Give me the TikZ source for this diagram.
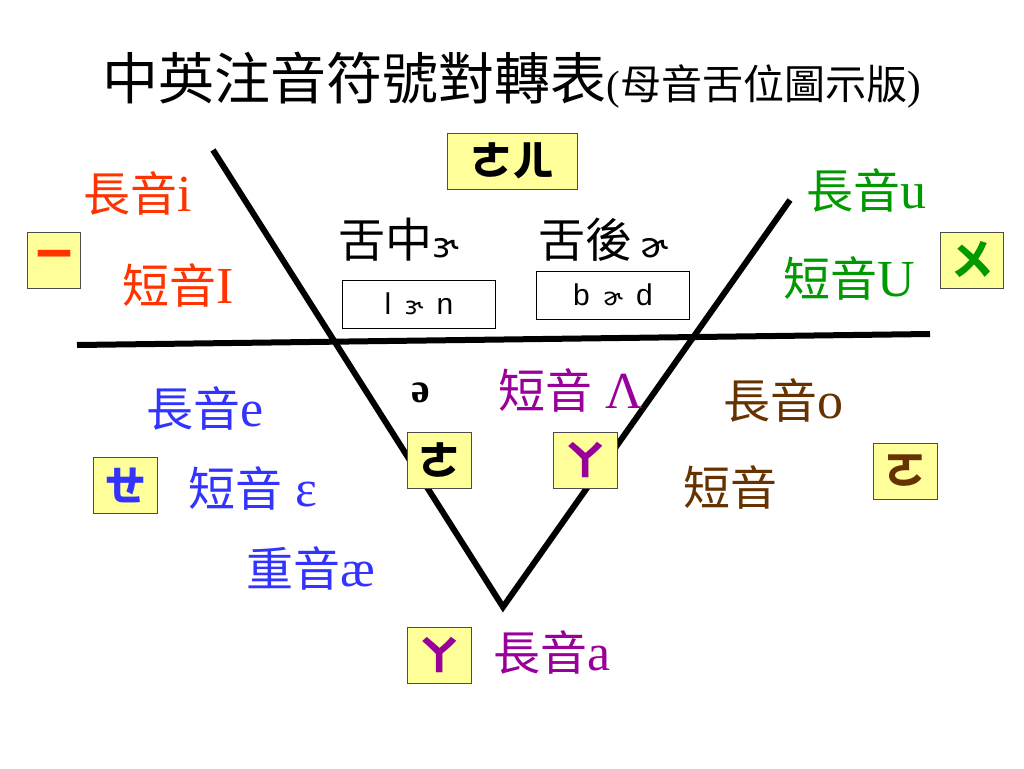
\documentclass[tikz,border=0pt]{standalone}
\usepackage{fontspec}
\setmainfont{Liberation Serif}
\newfontfamily\cjk{Noto Sans CJK TC}
\newfontfamily\arial{Liberation Sans}
\newfontfamily\ipa{DejaVu Sans}
\usetikzlibrary{positioning}
\definecolor{boxyellow}{HTML}{FFFF99}
\definecolor{hired}{HTML}{FF3300}
\definecolor{higreen}{HTML}{009900}
\definecolor{hiblue}{HTML}{3333FF}
\definecolor{hipurple}{HTML}{990099}
\definecolor{hibrown}{HTML}{663300}
\newcommand{\zh}[1]{{\cjk\fontsize{47}{47}\selectfont #1}}
\tikzset{zy/.style={draw=black!70,fill=boxyellow,minimum width=64pt,minimum
height=56pt,inner sep=0pt,font=\cjk\bfseries\fontsize{42}{42}\selectfont},word/.style={anchor=west,inner
sep=0pt,font=\fontsize{52}{52}\selectfont}}
\tikzstyle{ipabox}    = [draw, minimum width=153pt, minimum height=48pt, inner sep=0pt, font=\arial\fontsize{30}{30}\selectfont]
\tikzstyle{bar}       = [line width=6pt]

\begin{document}
\begin{tikzpicture}[x=1pt,y=-1pt]
		\useasboundingbox (0,0) rectangle (1024,768);
		\coordinate (vl) at (213,150);
		\coordinate (vb) at (503,607);
		\coordinate (vr) at (790,200);
		\coordinate (hl) at (77,345);
		\coordinate (hr) at (930,334);
		\draw[bar] (vl) -- (vb) -- (vr);
		\draw[bar] (hl) -- (hr);
		\node[inner sep=0pt,font=\cjk\fontsize{56}{56}\selectfont] (title) at (354,78) {中英注音符號對轉表};
		\node[inner sep=0pt,anchor=base west,font=\fontsize{41}{41}\selectfont] (sub) at (title.base east) {(\zh{\fontsize{41}{41}\selectfont 母音舌位圖示版})};
		\node[zy,minimum width=130pt] (er) at (512,161) {ㄜㄦ};
		\node[zy,minimum width=53pt,text=hired] (yi) at (54,260) {ㄧ};
		\node[zy,minimum width=63pt,text=higreen] (wu) at (972,260) {ㄨ};
		\node[zy,text=hiblue] (eh) at (125,485) {ㄝ};
		\node[zy] (e) at (439,460) {ㄜ};
		\node[zy,text=hipurple] (a) at (585,460) {ㄚ};
		\node[zy,text=hibrown] (o) at (905,471) {ㄛ};
		\node[zy,text=hipurple] (along) at (439,655) {ㄚ};
		\node[word,text=hired] (ilong) at (83,193) {\zh{長音}i};
		\node[word,text=hired] (ishort) at (122,285) {\zh{短音}I};
		\node[word] (mid) at (338,240) {\zh{舌中}{\ipa\fontsize{34}{34}\selectfont ɝ}};
		\node[word] (back) at (538,240) {\zh{舌後}\,{\ipa\fontsize{34}{34}\selectfont ɚ}};
		\node[ipabox] (learn) at (419,304) {l\ \,{\ipa\fontsize{24}{24}\selectfont ɝ}\ \,n};
		\node[ipabox] (bird) at (613,295) {b\ \,{\ipa\fontsize{24}{24}\selectfont ɚ}\ \,d};
		\node[word,text=higreen] (ulong) at (806,190) {\zh{長音}u};
		\node[word,text=higreen] (ushort) at (783,278) {\zh{短音}U};
		\node[word,text=hiblue] (elong) at (146,408) {\zh{長音}e};
		\node[word,text=hiblue] (eshort) at (188,488) {\zh{短音} ε};
		\node[word,text=hiblue] (ae) at (246,568) {\zh{重音}æ};
		\node[inner sep=0pt,font=\bfseries\fontsize{42}{42}\selectfont] (schwa) at (421,393) {ə};
		\node[word,text=hipurple] (lambda) at (498,390) {\zh{短音} Λ};
		\node[word,text=hibrown] (olong) at (723,400) {\zh{長音}o};
		\node[word,text=hibrown] (oshort) at (683,487) {\zh{短音}};
		\node[word,text=hipurple] (alabel) at (493,652) {\zh{長音}a};
	\end{tikzpicture}
\end{document}
